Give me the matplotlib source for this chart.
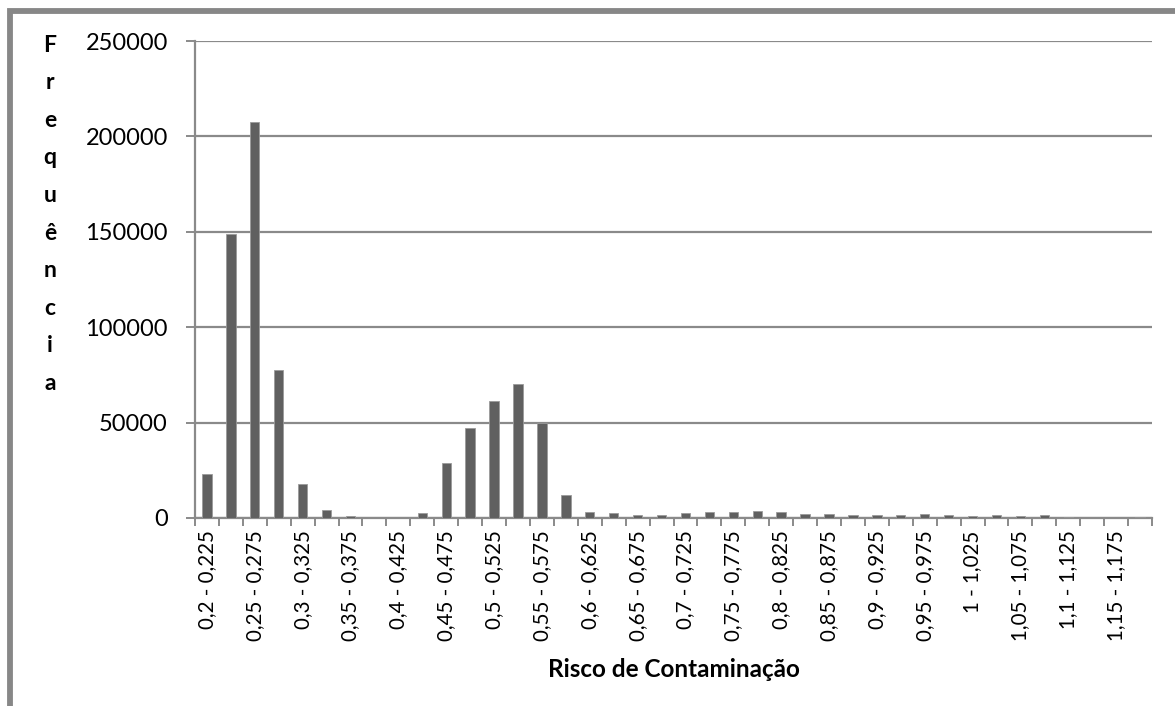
import matplotlib
matplotlib.use("Agg")
import matplotlib.pyplot as plt
from matplotlib.patches import Rectangle
from matplotlib.ticker import FixedLocator

plt.rcParams['font.family'] = ['Lato', 'DejaVu Sans']

lows = ["0,2", "0,225", "0,25", "0,275", "0,3", "0,325", "0,35", "0,375", "0,4", "0,425",
        "0,45", "0,475", "0,5", "0,525", "0,55", "0,575", "0,6", "0,625", "0,65", "0,675",
        "0,7", "0,725", "0,75", "0,775", "0,8", "0,825", "0,85", "0,875", "0,9", "0,925",
        "0,95", "0,975", "1", "1,025", "1,05", "1,075", "1,1", "1,125", "1,15", "1,175"]
highs = lows[1:] + ["1,2"]
categories = [f"{a} - {b}" for a, b in zip(lows, highs)]

frequencies = [23300, 149000, 207300, 77800, 18000, 4000, 800, 0, 0, 2400,
               28900, 47200, 61200, 70300, 50000, 12000, 2900, 2600, 1800, 1500,
               2800, 3300, 3300, 3500, 3300, 2300, 2300, 1800, 1800, 1600,
               2300, 1500, 1000, 1500, 1200, 1400, 500, 0, 0, 500]

yticks = [0, 50000, 100000, 150000, 200000, 250000]

W, H = 1175, 706
fig = plt.figure(figsize=(W / 100, H / 100), dpi=100)
fig.patch.set_facecolor('white')

# outer border (top and left visible)
fig.patches.append(Rectangle((9.5 / W, -0.1), 1.2, (H - 11) / H + 0.1,
                             transform=fig.transFigure, fill=False,
                             edgecolor='#878787', linewidth=4.2, zorder=0))

ax = fig.add_axes([195 / W, 1 - 518 / H, (1152 - 195) / W, (518 - 41) / H])
x = list(range(len(categories)))
ax.bar(x, frequencies, width=0.39, color='#606060', edgecolor='#9a9a9a',
       linewidth=0.6, zorder=3)

ax.set_xlim(-0.5, len(categories) - 0.5)
ax.set_ylim(0, 250000)
ax.set_yticks(yticks)
ax.set_yticklabels([str(v) for v in yticks])
ax.yaxis.grid(True, color='#8a8a8a', linewidth=1.6, zorder=0)
ax.set_axisbelow(True)

ax.set_xticks(x[::2])
ax.set_xticklabels(categories[::2], rotation=90, va='top', ha='center')
ax.xaxis.set_minor_locator(FixedLocator([i - 0.5 for i in range(len(categories) + 1)]))

for s in ['top', 'right']:
    ax.spines[s].set_visible(False)
for s in ['left', 'bottom']:
    ax.spines[s].set_color('#8a8a8a')
    ax.spines[s].set_linewidth(1.6)

ax.tick_params(axis='x', which='major', length=0, pad=9, labelsize=14.8, colors='black')
ax.tick_params(axis='x', which='minor', length=5.5, width=1.4, color='#8a8a8a', direction='out')
ax.tick_params(axis='y', which='major', length=6.5, width=1.4, color='#8a8a8a', pad=13,
               labelsize=17, labelcolor='black')

ax.set_xlabel("Risco de Contaminação", fontsize=17.5, fontweight='bold', labelpad=12)

# stacked vertical y label
letters = list("Frequência")
for i, ch in enumerate(letters):
    fig.text(50 / W, 1 - (45 + i * 37.6) / H, ch, fontsize=16.5, fontweight='bold',
             ha='center', va='center')

fig.savefig("out.png", dpi=100)
